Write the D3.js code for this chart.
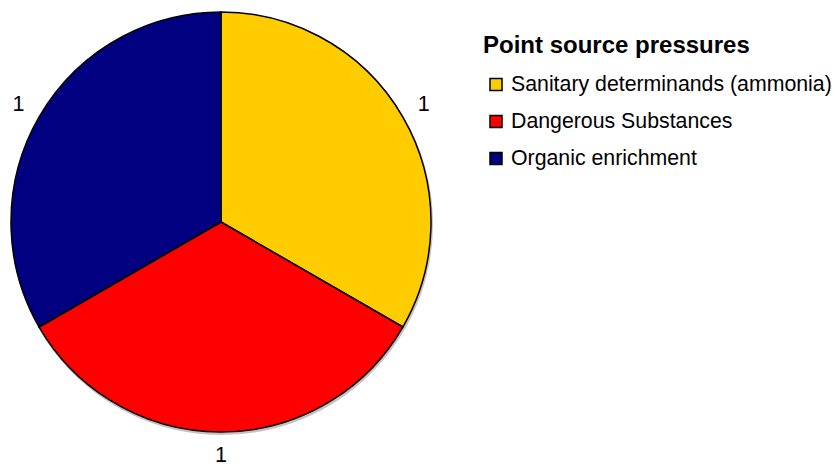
<!DOCTYPE html>
<html>
<head>
<meta charset="utf-8">
<script src="https://cdn.jsdelivr.net/npm/d3@7"></script>
<style>
  body { margin: 0; background: #fff; }
  svg { display: block; font-family: Arial, "Liberation Sans", sans-serif; }
</style>
</head>
<body>
<div id="chart"></div>
<script>
// --- data ---
const categories = ['Sanitary determinands (ammonia)', 'Dangerous Substances', 'Organic enrichment'];
const values = [1, 1, 1];
const colors = ['#FFCC00', '#FF0000', '#000080'];
const legendTitle = 'Point source pressures';

const width = 835, height = 466;
const cx = 221, cy = 222, radius = 210;

const svg = d3.select('#chart').append('svg')
    .attr('width', width)
    .attr('height', height);

const pie = d3.pie().sort(null).value(d => d)(values);
const arc = d3.arc().innerRadius(0).outerRadius(radius);
const labelArc = d3.arc().innerRadius(234).outerRadius(234);

const g = svg.append('g').attr('transform', `translate(${cx},${cy})`);

// soft shadow under the pie
g.append('circle')
    .attr('cx', 1).attr('cy', 2)
    .attr('r', radius + 1)
    .attr('fill', '#888')
    .attr('opacity', 0.5);

g.selectAll('path.slice')
    .data(pie)
    .enter()
    .append('path')
    .attr('class', 'slice')
    .attr('d', arc)
    .attr('fill', (d, i) => colors[i])
    .attr('stroke', '#000')
    .attr('stroke-width', 1.5)
    .attr('stroke-linejoin', 'round');

// value labels outside the slices
g.selectAll('text.val')
    .data(pie)
    .enter()
    .append('text')
    .attr('class', 'val')
    .attr('x', d => labelArc.centroid(d)[0])
    .attr('y', d => labelArc.centroid(d)[1] - 1)
    .attr('text-anchor', 'middle')
    .attr('dominant-baseline', 'central')
    .attr('font-size', 21.5)
    .attr('fill', '#000')
    .text(d => d.data);

// --- legend ---
const legend = svg.append('g').attr('transform', 'translate(483,0)');

legend.append('text')
    .attr('x', 0).attr('y', 53)
    .attr('font-size', 24)
    .attr('font-weight', 'bold')
    .text(legendTitle);

const items = legend.selectAll('g.item')
    .data(categories)
    .enter()
    .append('g')
    .attr('class', 'item')
    .attr('transform', (d, i) => `translate(0,${91 + i * 37})`);

items.append('rect')
    .attr('x', 7).attr('y', -12.5)
    .attr('width', 12).attr('height', 12)
    .attr('fill', (d, i) => colors[i])
    .attr('stroke', '#000')
    .attr('stroke-width', 1.5);

items.append('text')
    .attr('x', 28).attr('y', 0)
    .attr('font-size', 21.3)
    .attr('fill', '#000')
    .text(d => d);
</script>
</body>
</html>
